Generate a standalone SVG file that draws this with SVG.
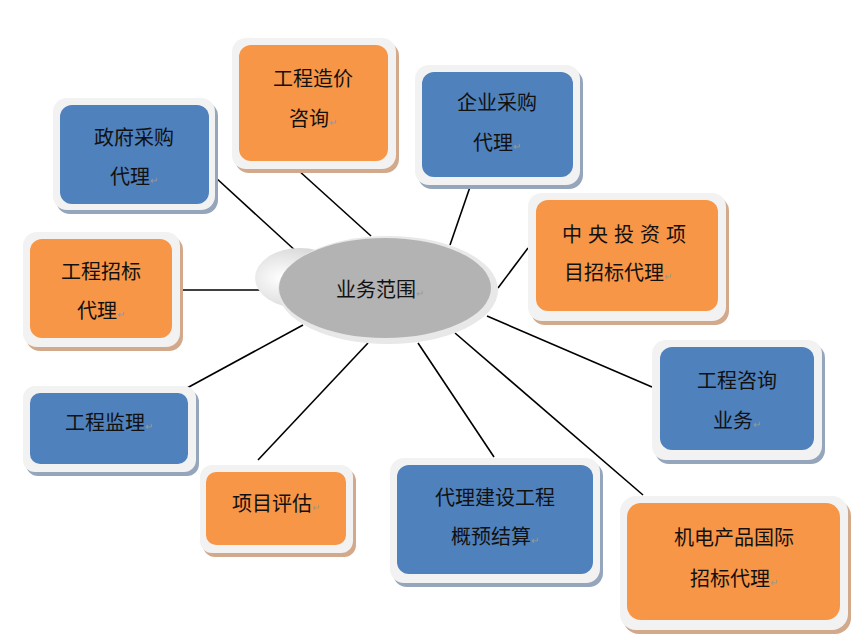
<svg xmlns="http://www.w3.org/2000/svg" width="862" height="644" viewBox="0 0 862 644">
<defs>
<style>
.fr{fill:#f2f2f2}
.so{fill:#d2a98a}
.sb{fill:#95a5bb}
.o{fill:#f79646}
.b{fill:#4f81bd}
text{font-family:"Noto Sans CJK SC","Liberation Sans",sans-serif;fill:#111;text-anchor:middle;font-size:20px}
.rm{fill:#999;font-size:10px}
#links line{stroke:#000;stroke-width:1.6}
</style>
<radialGradient id="sh" cx="0.3" cy="0.5" r="0.7"><stop offset="0" stop-color="#ffffff"/><stop offset="1" stop-color="#cfcfcf"/></radialGradient>
</defs>
<rect width="862" height="644" fill="#fff"/>
<g id="links">
<line x1="215" y1="177" x2="298" y2="253"/>
<line x1="298" y1="170" x2="371" y2="236"/>
<line x1="470" y1="187" x2="450" y2="245"/>
<line x1="528" y1="248" x2="498" y2="288"/>
<line x1="180" y1="290" x2="275" y2="290"/>
<line x1="487" y1="316" x2="652" y2="387"/>
<line x1="187" y1="388" x2="303" y2="325"/>
<line x1="258" y1="460" x2="368" y2="343"/>
<line x1="494" y1="457" x2="418" y2="343"/>
<line x1="643" y1="495" x2="455" y2="333"/>
</g>
<g id="center">
<ellipse cx="300" cy="278" rx="45" ry="30" fill="url(#sh)"/>
<ellipse cx="388" cy="290" rx="110" ry="54" fill="#e8e8e8"/>
<ellipse cx="385" cy="288" rx="106" ry="50" fill="#b3b3b3"/>
<text x="380" y="297" font-size="24">业务范围<tspan class="rm">↵</tspan></text>
</g>
<g id="n1">
<rect x="56" y="102" width="162" height="112" rx="14" class="sb"/>
<rect x="53" y="98" width="162" height="112" rx="14" class="fr"/>
<rect x="60" y="105" width="149" height="99" rx="12" class="b"/>
<text x="134" y="145">政府采购</text><text x="134" y="184">代理<tspan class="rm">↵</tspan></text>
</g>
<g id="n2">
<rect x="235" y="42" width="164" height="131" rx="14" class="so"/>
<rect x="232" y="38" width="164" height="131" rx="14" class="fr"/>
<rect x="239" y="45" width="149" height="116" rx="12" class="o"/>
<text x="313" y="86">工程造价</text><text x="313" y="126">咨询<tspan class="rm">↵</tspan></text>
</g>
<g id="n3">
<rect x="418" y="69" width="165" height="120" rx="14" class="sb"/>
<rect x="415" y="65" width="165" height="120" rx="14" class="fr"/>
<rect x="422" y="72" width="151" height="105" rx="12" class="b"/>
<text x="497" y="110">企业采购</text><text x="497" y="150">代理<tspan class="rm">↵</tspan></text>
</g>
<g id="n4">
<rect x="531" y="197" width="198" height="128" rx="14" class="so"/>
<rect x="528" y="193" width="198" height="128" rx="14" class="fr"/>
<rect x="536" y="200" width="182" height="111" rx="12" class="o"/>
<text x="627" y="242" letter-spacing="6">中央投资项</text><text x="618" y="280">目招标代理<tspan class="rm">↵</tspan></text>
</g>
<g id="n5">
<rect x="26" y="236" width="157" height="115" rx="14" class="so"/>
<rect x="23" y="232" width="157" height="115" rx="14" class="fr"/>
<rect x="30" y="239" width="142" height="99" rx="12" class="o"/>
<text x="101" y="279">工程招标</text><text x="101" y="318">代理<tspan class="rm">↵</tspan></text>
</g>
<g id="n6">
<rect x="655" y="344" width="170" height="120" rx="14" class="sb"/>
<rect x="652" y="340" width="170" height="120" rx="14" class="fr"/>
<rect x="660" y="347" width="154" height="103" rx="12" class="b"/>
<text x="737" y="388" font-size="24">工程咨询</text><text x="737" y="428" font-size="24">业务<tspan class="rm">↵</tspan></text>
</g>
<g id="n7">
<rect x="26" y="390" width="173" height="86" rx="12" class="sb"/>
<rect x="23" y="386" width="173" height="86" rx="12" class="fr"/>
<rect x="30" y="393" width="158" height="71" rx="10" class="b"/>
<text x="109" y="430">工程监理<tspan class="rm">↵</tspan></text>
</g>
<g id="n8">
<rect x="203" y="469" width="153" height="88" rx="12" class="so"/>
<rect x="200" y="465" width="153" height="88" rx="12" class="fr"/>
<rect x="206" y="472" width="140" height="73" rx="10" class="o"/>
<text x="276" y="511">项目评估<tspan class="rm">↵</tspan></text>
</g>
<g id="n9">
<rect x="393" y="462" width="210" height="125" rx="14" class="sb"/>
<rect x="390" y="458" width="210" height="125" rx="14" class="fr"/>
<rect x="397" y="465" width="196" height="109" rx="12" class="b"/>
<text x="495" y="505">代理建设工程</text><text x="495" y="544">概预结算<tspan class="rm">↵</tspan></text>
</g>
<g id="n10">
<rect x="623" y="500" width="228" height="134" rx="16" class="so"/>
<rect x="620" y="496" width="228" height="134" rx="16" class="fr"/>
<rect x="627" y="503" width="213" height="117" rx="14" class="o"/>
<text x="734" y="545" font-size="26">机电产品国际</text><text x="734" y="586" font-size="26">招标代理<tspan class="rm">↵</tspan></text>
</g>
</svg>
